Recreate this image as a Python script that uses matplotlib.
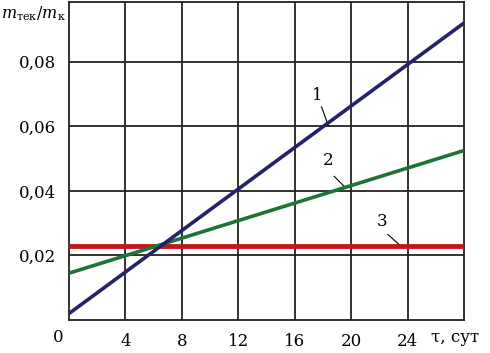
import numpy as np
import matplotlib
matplotlib.use('Agg')
import matplotlib.pyplot as plt

# данные
tau = [0, 28]
line1 = [0.002, 0.092]
line2 = [0.0145, 0.0525]
line3 = [0.023, 0.023]
xticks = [4, 8, 12, 16, 20, 24]
yticks = [0.02, 0.04, 0.06, 0.08]

plt.rcParams['font.family'] = ['DejaVu Serif']
plt.rcParams['mathtext.fontset'] = 'dejavuserif'

fig = plt.figure(figsize=(4.9, 3.53), dpi=100)
ax = fig.add_axes([69/490, 1 - 320/353, (464-69)/490, (320-2)/353])

ax.set_xlim(0, 28)
ax.set_ylim(0, 0.0985)

for x in range(4, 28, 4):
    ax.axvline(x, color='#222222', lw=1.3, zorder=1)
for y in yticks:
    ax.axhline(y, color='#222222', lw=1.3, zorder=1)
for s in ax.spines.values():
    s.set_color('#222222')
    s.set_linewidth(1.3)

ax.plot(tau, line3, color='#c3161c', lw=3.5, zorder=3, solid_capstyle='butt')
ax.plot(tau, line2, color='#1d7436', lw=2.6, zorder=4, solid_capstyle='butt')
ax.plot(tau, line1, color='#23226a', lw=2.6, zorder=5, solid_capstyle='butt')

ax.set_xticks(xticks)
ax.set_xticklabels([str(v) for v in xticks])
ax.set_yticks(yticks)
ax.set_yticklabels([f'{v:.2f}'.replace('.', ',') for v in yticks])
ax.tick_params(length=0, labelsize=12, pad=9)

# подписи кривых
ax.text(17.6, 0.0695, '1', fontsize=12, ha='center', va='center')
ax.plot([17.9, 18.4], [0.066, 0.060], color='k', lw=0.8)
ax.text(18.4, 0.0495, '2', fontsize=12, ha='center', va='center')
ax.plot([18.8, 19.6], [0.0445, 0.041], color='k', lw=0.8)
ax.text(22.2, 0.0305, '3', fontsize=12, ha='center', va='center')
ax.plot([22.6, 23.5], [0.0265, 0.023], color='k', lw=0.8)

fig.text(58/490, 1 - 337/353, '0', fontsize=12, ha='center', va='center')
fig.text(455/490, 1 - 337/353, 'τ, сут', fontsize=12, ha='center', va='center')
fig.text(66/490, 1 - 14/353, r'$m_{\mathregular{тек}}/m_{\mathregular{к}}$', fontsize=11.5,
         ha='right', va='center')

fig.savefig('out.png', dpi=100)
